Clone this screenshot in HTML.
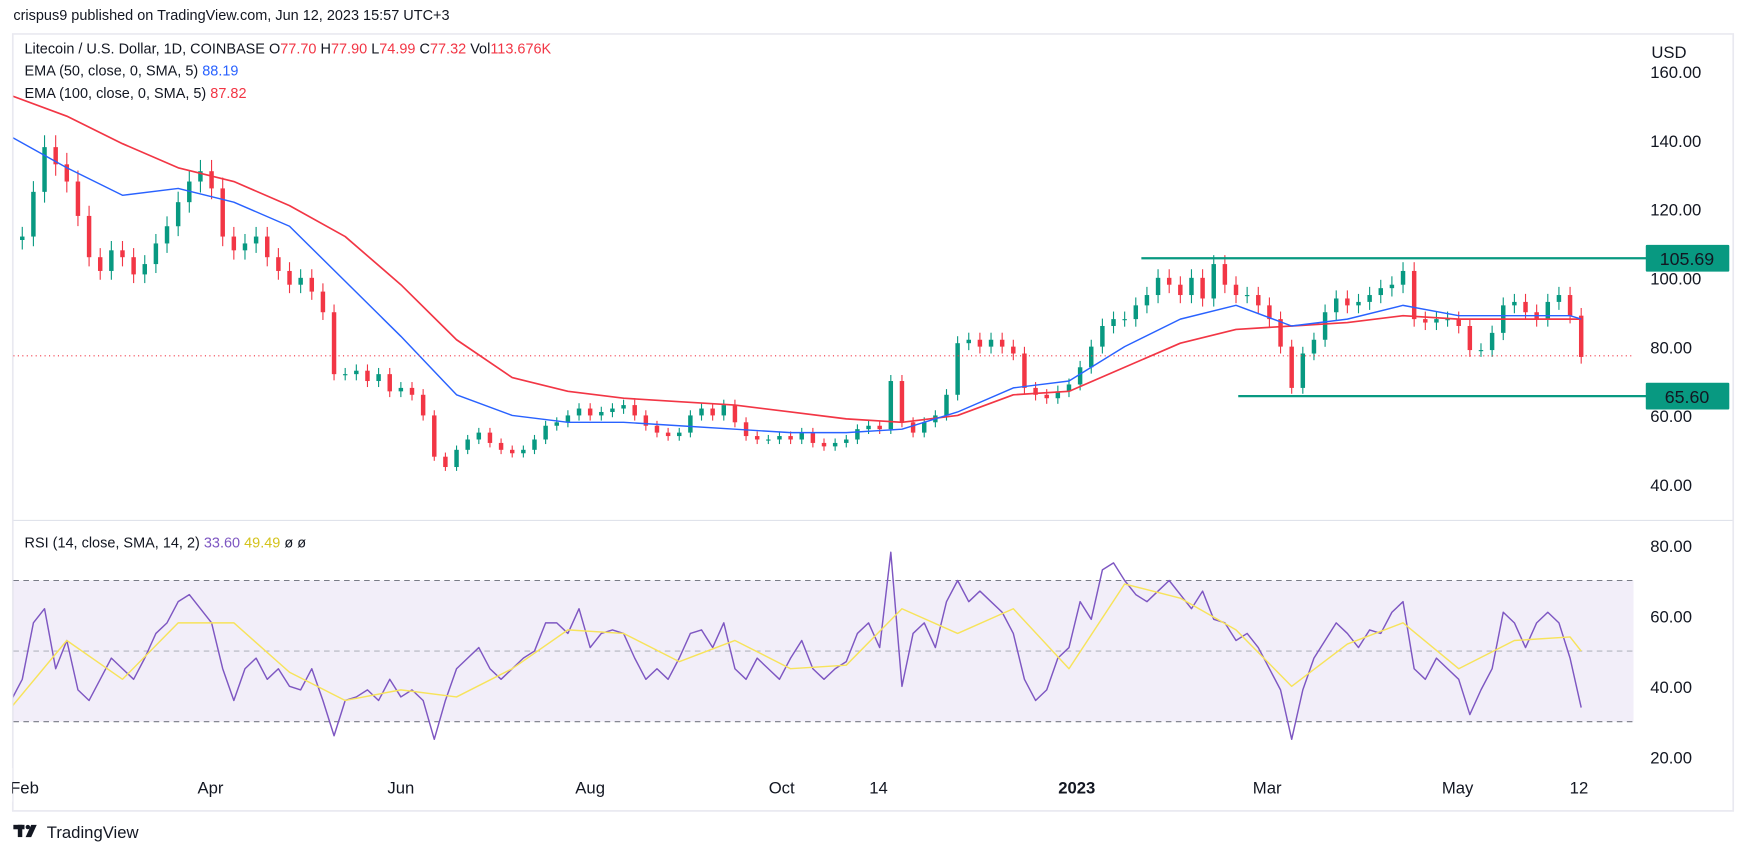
<!DOCTYPE html>
<html><head><meta charset="utf-8"><style>
html,body{margin:0;padding:0;background:#fff;}
svg{display:block;font-family:"Liberation Sans",sans-serif;}
</style></head><body>
<svg id="chart" width="1746" height="856" viewBox="0 0 1568 769" preserveAspectRatio="none" xmlns="http://www.w3.org/2000/svg">
<rect x="0" y="0" width="1568" height="769" fill="#fff"/>
<text x="12" y="18" font-size="13" fill="#131722">crispus9 published on TradingView.com, Jun 12, 2023 15:57 UTC+3</text>
<rect x="11.5" y="30.5" width="1545" height="698" fill="none" stroke="#e9e9f0" stroke-width="1.5"/>
<defs><clipPath id="pc"><rect x="12" y="31" width="1455" height="436"/></clipPath><clipPath id="rc"><rect x="12" y="468" width="1455" height="225"/></clipPath></defs>
<g id="grid"></g>
<g id="price" clip-path="url(#pc)"></g>
<g id="rsi" clip-path="url(#rc)"></g>
<g id="axes"></g>
<line x1="12" x2="1556" y1="467.5" y2="467.5" stroke="#e0e3eb"/>
<text x="22" y="48" font-size="13" fill="#131722">Litecoin / U.S. Dollar, 1D, COINBASE  <tspan>O</tspan><tspan fill="#f23645">77.70</tspan> H<tspan fill="#f23645">77.90</tspan> L<tspan fill="#f23645">74.99</tspan> C<tspan fill="#f23645">77.32</tspan> Vol<tspan fill="#f23645">113.676K</tspan></text>
<text x="22" y="68" font-size="13" fill="#131722">EMA (50, close, 0, SMA, 5) <tspan fill="#2962ff">88.19</tspan></text>
<text x="22" y="88" font-size="13" fill="#131722">EMA (100, close, 0, SMA, 5) <tspan fill="#f23645">87.82</tspan></text>
<text x="22" y="492" font-size="13" fill="#131722">RSI (14, close, SMA, 14, 2) <tspan fill="#7e57c2">33.60</tspan> <tspan fill="#d4c31c">49.49</tspan> ø ø</text>
<text x="1483" y="52" font-size="15" fill="#131722">USD</text>
<g>
<rect x="12" y="741" width="10" height="4" fill="#131722"/><rect x="16" y="741" width="4" height="11" fill="#131722"/><circle cx="25" cy="743" r="2" fill="#131722"/><polygon points="28,741 33,741 28,752 23,752" fill="#131722"/>
<text x="42" y="753" font-size="15" fill="#131722">TradingView</text></g>
</svg>
<script>
const closes=[111,112,125,138,133,128,118,106,102,108,106,101,104,110,115,122,128,131,126,112,108,110,112,106,102,98,100,96,90,72,72,73,70,72,67,68,66,60,48,45,50,53,55,52,50,49,50,53,57,58,60,62,60,61,62,63,60,57,55,54,55,60,62,60,63,58,54,53,53,54,53,55,52,51,52,53,56,57,56,70,58,55,58,60,66,81,82,80,82,80,78,68,66,65,67,69,74,80,86,88,88,92,95,100,98,95,100,94,104,98,95,95,92,88,80,68,78,82,90,94,92,93,95,97,98,102,88,87,88,88,86,79,79,84,92,93,90,88,93,95,89,77];
const rsiVals=[36,42,58,62,45,53,39,36,42,48,45,42,48,55,58,64,66,62,58,45,36,45,48,42,45,40,39,45,36,26,36,37,39,36,42,37,39,36,25,36,45,48,51,45,42,45,48,50,58,58,55,62,51,55,56,55,48,42,45,42,48,55,56,51,58,45,42,48,45,42,48,53,45,42,45,47,55,58,51,78,40,55,58,51,64,70,64,67,64,61,55,42,36,39,48,51,64,59,73,75,70,66,64,67,70,66,62,67,59,58,53,55,51,45,39,25,39,48,53,58,55,51,56,55,61,64,45,42,48,45,42,32,39,45,61,58,51,58,61,58,48,34];
const sampleIdx=[0,5,10,15,20,25,30,35,40,45,50,55,60,65,70,75,80,85,90,95,100,105,110,115,120,125,130,135,140,141];
const ema50=[141,132,124,126,122,115,99,83,66,60,58,58,57,56,55,55,56,61,68,70,80,88,92,86,88,92,89,89,89,88];
const ema100=[153,147,139,132,128,121,112,98,82,71,67,65,64,63,61,59,58,60,66,67,74,81,85,86,87,89,88,88,88,88];
const rsiSma=[34,53,42,58,58,44,36,39,37,45,56,55,47,53,45,46,62,55,62,45,69,65,56,40,52,58,45,53,54,50];
const priceTicks=[40,60,80,100,120,140,160];
const rsiTicks=[20,40,60,80];
const timeLabels=["Feb","Apr","Jun","Aug","Oct","14","2023","Mar","May","12"];
const timeIdx=[1.2,17.9,35,52,69.2,77.9,95.7,112.8,129.9,140.8];
const levels=[105.69,65.60];
const levelStart=[101.5,110.2];
const lastPrice=77.32;

const NS="http://www.w3.org/2000/svg";
const X=i=>10+i*10;
const Y=p=>435-(p-40)*3.09;
const R=v=>680-(v-20)*3.17;
function mk(tag,attrs,parent){const e=document.createElementNS(NS,tag);for(const k in attrs)e.setAttribute(k,attrs[k]);parent.appendChild(e);return e;}
const gp=document.getElementById('price'),gr=document.getElementById('rsi'),ga=document.getElementById('axes');

let band=mk('rect',{x:12,y:R(70),width:1455,height:R(30)-R(70),fill:'#7e57c2','fill-opacity':0.1},gr);


[70,50,30].forEach(v=>{let l=mk('line',{x1:12,x2:1467,y1:R(v),y2:R(v),stroke:v==50?'#b2b5be':'#787b86','stroke-dasharray':'5,4'},gr);

});

closes.forEach((c,i)=>{
  const o=i>0?closes[i-1]:c-1;
  const up=c>=o;
  const hi=Math.max(o,c)*1.025, lo=Math.min(o,c)*0.975;
  const col=up?'#089981':'#f23645';
  const g=mk('g',{},gp);
  
  
  mk('line',{x1:X(i),x2:X(i),y1:Y(hi),y2:Y(lo),stroke:col,'stroke-width':1},g);
  const t=Math.min(Y(o),Y(c)),h=Math.max(1,Math.abs(Y(o)-Y(c)));
  mk('rect',{x:X(i)-2,y:t,width:4,height:h,fill:col},g);
});
function poly(vals,yf,col,name,parent,w){
  const pts=sampleIdx.map((ix,k)=>X(ix)+','+yf(vals[k])).join(' ');
  const p=mk('polyline',{points:pts,fill:'none',stroke:col,'stroke-width':w||1.4,'stroke-linejoin':'round'},parent);
  
  
}
poly(ema100,Y,'#f23645','ema100-line',gp,1.5);
poly(ema50,Y,'#2962ff','ema50-line',gp,1.3);
let lp=mk('line',{x1:12,x2:1467,y1:Y(lastPrice),y2:Y(lastPrice),stroke:'#f23645','stroke-dasharray':'1,3'},gp);


levels.forEach((v,k)=>{
  let l=mk('line',{x1:X(levelStart[k]),x2:1480,y1:Y(v),y2:Y(v),stroke:'#089981','stroke-width':2},ga);
  
  
});
const rp=rsiVals.map((v,i)=>X(i)+','+R(v)).join(' ');
let rl=mk('polyline',{points:rp,fill:'none',stroke:'#7e57c2','stroke-width':1.3,'stroke-linejoin':'round'},gr);


poly(rsiSma,R,'#f7e35b','rsi-sma-line',gr,1.3);

priceTicks.forEach(v=>{let t=mk('text',{x:1482,y:Y(v)+6,'font-size':15,fill:'#131722'},ga);t.textContent=v.toFixed(2);

});
rsiTicks.forEach(v=>{let t=mk('text',{x:1482,y:R(v)+6,'font-size':15,fill:'#131722'},ga);t.textContent=v.toFixed(2);

});
levels.forEach(v=>{
  let r=mk('rect',{x:1478,y:Y(v)-12,width:75,height:24,fill:'#089981',rx:1},ga);
  
  
  let t=mk('text',{x:1515,y:Y(v)+6,'font-size':16,fill:'#131722','text-anchor':'middle'},ga);t.textContent=v.toFixed(2);
  
  
});
timeLabels.forEach((s,k)=>{let t=mk('text',{x:X(timeIdx[k]),y:713,'font-size':15,fill:'#131722','text-anchor':'middle','font-weight':s=='2023'?'bold':'normal'},ga);t.textContent=s;

});
let cov=mk('rect',{x:0,y:690,width:11,height:30,fill:'#fff'},ga);


</script>
</body></html>
